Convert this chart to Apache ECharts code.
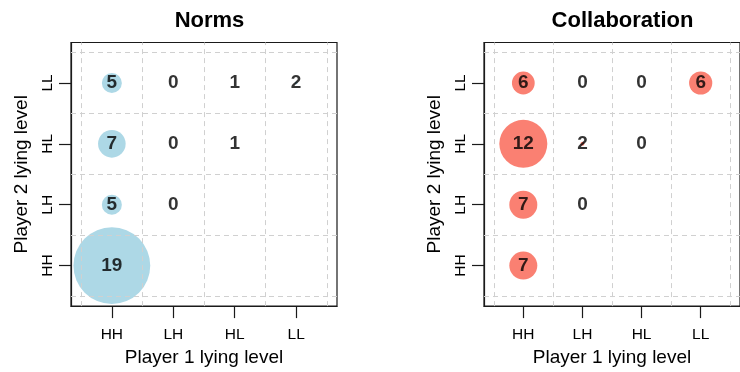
<!DOCTYPE html>
<html>
<head>
<meta charset="utf-8">
<script src="https://cdn.jsdelivr.net/npm/echarts@6/dist/echarts.min.js"></script>
<style>
html,body{margin:0;padding:0;background:#fff;}
#chart{width:740px;height:372px;}
</style>
</head>
<body>
<div id="chart"></div>
<script>
// Lying levels (axis categories, index 1..4 on both axes)
const levels = ['HH', 'LH', 'HL', 'LL'];
const panelTitles = ['Norms', 'Collaboration'];
const xTitle = 'Player 1 lying level';
const yTitle = 'Player 2 lying level';
const gridBreaks = [0.5, 1.5, 2.5, 3.5, 4.5];

// Counts: rows = Player 2 level (HH, LH, HL, LL), cols = Player 1 level (HH, LH, HL, LL)
const normsCount = [
  [19, null, null, null],
  [5, 0, null, null],
  [7, 0, 1, null],
  [5, 0, 1, 2]
];
// bubble weight shown by circle radius
const normsBubble = [
  [19.2, 0, 0, 0],
  [5, 0, 0, 0],
  [6.9, 0, 0, 0],
  [5, 0, 0, 0.7]
];
const collabCount = [
  [7, null, null, null],
  [7, 0, null, null],
  [12, 2, 0, null],
  [6, 0, 0, 6]
];
const collabBubble = [
  [7, 0, 0, 0],
  [7, 0, 0, 0],
  [12, 1, 0, 0],
  [5.7, 0, 0, 5.8]
];

const FONT = '"Liberation Sans", Arial, Helvetica, sans-serif';
const chart = echarts.init(document.getElementById('chart'), null, {renderer: 'canvas'});

const gridLefts = [71, 484];
const grids = gridLefts.map(l => ({
  left: l, top: 42.5, width: 266, height: 266,
  show: true, borderColor: '#1a1a1a', borderWidth: 1.2, backgroundColor: 'transparent', containLabel: false
}));

function toPoints(counts, bubbles) {
  const bub = [], lab = [];
  counts.forEach((row, yi) => row.forEach((c, xi) => {
    if (c === null) return;
    bub.push([xi + 1, yi + 1, bubbles[yi][xi]]);
    lab.push([xi + 1, yi + 1, c]);
  }));
  return {bub, lab};
}

const xAxes = [], yAxes = [], series = [], titles = [];
const panels = [
  {counts: normsCount, bubbles: normsBubble, color: '#ADD8E6'},
  {counts: collabCount, bubbles: collabBubble, color: '#FA8072'}
];
panels.forEach((p, i) => {
  xAxes.push({
    type: 'value', gridIndex: i, min: 0.335, max: 4.665,
    axisLine: {show: true, lineStyle: {color: '#1a1a1a', width: 1.2}},
    axisTick: {show: true, customValues: [1, 2, 3, 4], length: 12, lineStyle: {color: '#1a1a1a', width: 1.2}},
    axisLabel: {customValues: [1, 2, 3, 4], formatter: v => levels[Math.round(v) - 1], fontFamily: FONT, fontSize: 15.5, color: '#000', margin: 21},
    splitLine: {show: false},
    name: xTitle, nameLocation: 'middle', nameGap: 40,
    nameTextStyle: {fontFamily: FONT, fontSize: 19, color: '#000'}
  });
  yAxes.push({
    type: 'value', gridIndex: i, min: 0.335, max: 4.665,
    axisLine: {show: true, lineStyle: {color: '#1a1a1a', width: 1.2}},
    axisTick: {show: true, customValues: [1, 2, 3, 4], length: 12, lineStyle: {color: '#1a1a1a', width: 1.2}},
    axisLabel: {customValues: [1, 2, 3, 4], formatter: v => levels[Math.round(v) - 1], rotate: 90, fontFamily: FONT, fontSize: 15.5, color: '#000', margin: 15},
    splitLine: {show: false},
    name: yTitle, nameLocation: 'middle', nameGap: 40, nameRotate: 90,
    nameTextStyle: {fontFamily: FONT, fontSize: 19, color: '#000'}
  });
  titles.push({
    text: panelTitles[i], left: gridLefts[i] + 133.5, top: 5, textAlign: 'center',
    textStyle: {fontFamily: FONT, fontSize: 22, fontWeight: 'bold', color: '#000'}
  });
  const pts = toPoints(p.counts, p.bubbles);
  // dashed grid lines (through axes scales)
  series.push({
    type: 'scatter', xAxisIndex: i, yAxisIndex: i, data: [], silent: true,
    markLine: {
      silent: true, symbol: 'none', animation: false,
      label: {show: false},
      lineStyle: {color: '#d0d0d0', type: [5, 4], width: 1},
      emphasis: {disabled: true},
      data: gridBreaks.map(b => ({xAxis: b})).concat(gridBreaks.map(b => ({yAxis: b})))
    },
    z: 1
  });
  series.push({
    type: 'scatter', xAxisIndex: i, yAxisIndex: i, data: pts.bub,
    symbol: 'circle', symbolSize: d => d[2] * 4,
    itemStyle: {color: p.color, opacity: 1},
    silent: true, emphasis: {disabled: true}, z: 2
  });
  series.push({
    type: 'scatter', xAxisIndex: i, yAxisIndex: i, data: pts.lab,
    symbolSize: 1, itemStyle: {color: 'rgba(0,0,0,0)'},
    label: {show: true, position: 'inside', formatter: q => String(q.data[2]),
      fontFamily: FONT, fontSize: 19, fontWeight: 'bold', color: '#000'},
    silent: true, emphasis: {disabled: true}, z: 3
  });
});

chart.setOption({
  animation: false,
  backgroundColor: '#fff',
  title: titles,
  grid: grids,
  xAxis: xAxes,
  yAxis: yAxes,
  series: series
});
</script>
</body>
</html>
